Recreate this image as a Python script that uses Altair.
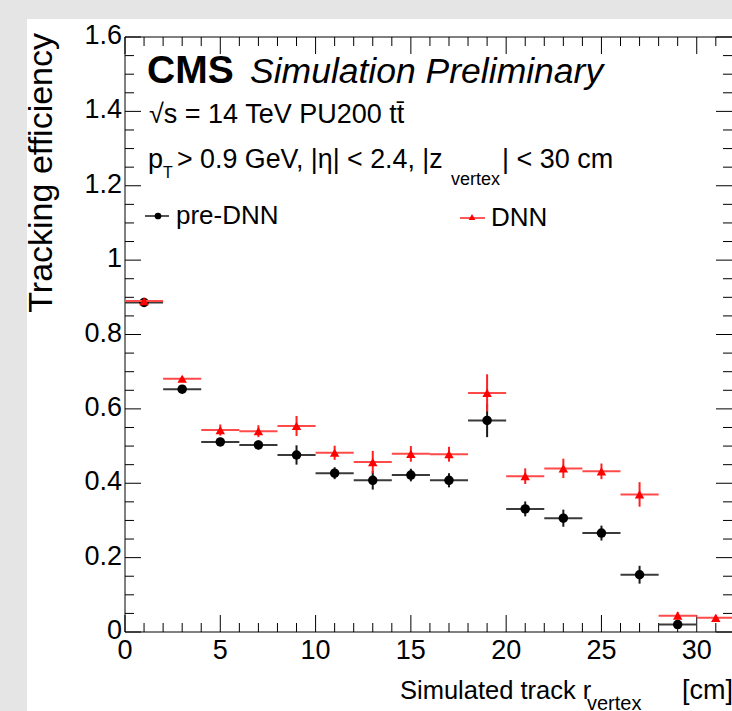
import altair as alt
import pandas as pd

# ---------------- data ----------------
bin_lo = [0, 2, 4, 6, 8, 10, 12, 14, 16, 18, 20, 22, 24, 26, 28, 30]
bin_hi = [2, 4, 6, 8, 10, 12, 14, 16, 18, 20, 22, 24, 26, 28, 30, 32]
bin_center = [1, 3, 5, 7, 9, 11, 13, 15, 17, 19, 21, 23, 25, 27, 29, 31]

pre_eff = [0.886, 0.653, 0.511, 0.503, 0.476, 0.427, 0.408, 0.422, 0.408,
           0.569, 0.331, 0.306, 0.266, 0.154, 0.020]
pre_err = [0.004, 0.006, 0.011, 0.012, 0.026, 0.016, 0.025, 0.017, 0.019,
           0.045, 0.020, 0.023, 0.020, 0.024, 0.006]
dnn_eff = [0.890, 0.681, 0.543, 0.540, 0.554, 0.482, 0.457, 0.479, 0.478,
           0.643, 0.419, 0.440, 0.432, 0.370, 0.044, 0.038]
dnn_err = [0.004, 0.006, 0.015, 0.016, 0.027, 0.019, 0.030, 0.021, 0.020,
           0.050, 0.021, 0.026, 0.021, 0.033, 0.010, 0.008]

x_major = [0, 5, 10, 15, 20, 25, 30]
x_labels = ["0", "5", "10", "15", "20", "25", "30"]
x_minor = [v for v in range(0, 32) if v % 5 != 0]
y_major = [0, 0.2, 0.4, 0.6, 0.8, 1.0, 1.2, 1.4, 1.6]
y_labels = ["0", "0.2", "0.4", "0.6", "0.8", "1", "1.2", "1.4", "1.6"]
y_minor = [round(0.05 * i, 2) for i in range(0, 33) if i % 4 != 0]

# ---------------- layout ----------------
W, H = 607, 595
FONT = "Liberation Sans"
XDOM = [0, 31.85]
YDOM = [0, 1.6]

pre = pd.DataFrame({
    "lo": bin_lo[:len(pre_eff)], "hi": bin_hi[:len(pre_eff)],
    "c": bin_center[:len(pre_eff)], "eff": pre_eff,
    "elo": [e - d for e, d in zip(pre_eff, pre_err)],
    "ehi": [e + d for e, d in zip(pre_eff, pre_err)],
})
dnn = pd.DataFrame({
    "lo": bin_lo[:len(dnn_eff)], "hi": bin_hi[:len(dnn_eff)],
    "c": bin_center[:len(dnn_eff)], "eff": dnn_eff,
    "elo": [e - d for e, d in zip(dnn_eff, dnn_err)],
    "ehi": [e + d for e, d in zip(dnn_eff, dnn_err)],
})

xs = alt.Scale(domain=XDOM, nice=False, zero=False)
ys = alt.Scale(domain=YDOM, nice=False, zero=False)
one = pd.DataFrame({"k": [0]})


def X(field):
    return alt.X(field, type="quantitative", scale=xs, axis=None)


def Y(field):
    return alt.Y(field, type="quantitative", scale=ys, axis=None)


layers = []

# white panel
layers.append(alt.Chart(one).mark_rect(color="white").encode(
    x=alt.value(-98), x2=alt.value(W + 5), y=alt.value(-18), y2=alt.value(H + 90)))

tx_major = pd.DataFrame({"v": x_major, "lab": x_labels})
tx_minor = pd.DataFrame({"v": x_minor})
ty_major = pd.DataFrame({"v": y_major, "lab": y_labels})
ty_minor = pd.DataFrame({"v": y_minor})

tick_style = dict(color="black", strokeWidth=1)
# frame (left, bottom, top)
layers.append(alt.Chart(one).mark_rule(**tick_style).encode(
    x=alt.value(0), x2=alt.value(W + 5), y=alt.value(0)))
layers.append(alt.Chart(one).mark_rule(**tick_style).encode(
    x=alt.value(0), x2=alt.value(W + 5), y=alt.value(H)))
layers.append(alt.Chart(one).mark_rule(**tick_style).encode(
    x=alt.value(0), y=alt.value(0), y2=alt.value(H)))
# bottom ticks
layers.append(alt.Chart(tx_major).mark_rule(**tick_style).encode(
    x=X("v"), y=alt.value(H), y2=alt.value(H - 17)))
layers.append(alt.Chart(tx_minor).mark_rule(**tick_style).encode(
    x=X("v"), y=alt.value(H), y2=alt.value(H - 9)))
# top ticks
layers.append(alt.Chart(tx_major).mark_rule(**tick_style).encode(
    x=X("v"), y=alt.value(0), y2=alt.value(17)))
layers.append(alt.Chart(tx_minor).mark_rule(**tick_style).encode(
    x=X("v"), y=alt.value(0), y2=alt.value(9)))
# left ticks
layers.append(alt.Chart(ty_major).mark_rule(**tick_style).encode(
    y=Y("v"), x=alt.value(0), x2=alt.value(16)))
layers.append(alt.Chart(ty_minor).mark_rule(**tick_style).encode(
    y=Y("v"), x=alt.value(0), x2=alt.value(9)))
# right ticks
layers.append(alt.Chart(ty_major).mark_rule(**tick_style).encode(
    y=Y("v"), x=alt.value(W), x2=alt.value(W - 16)))
layers.append(alt.Chart(ty_minor).mark_rule(**tick_style).encode(
    y=Y("v"), x=alt.value(W), x2=alt.value(W - 9)))

# tick labels
layers.append(alt.Chart(tx_major).mark_text(
    font=FONT, fontSize=27, color="black", align="center", baseline="top").encode(
    x=X("v"), y=alt.value(H + 6), text="lab:N"))
layers.append(alt.Chart(ty_major).mark_text(
    font=FONT, fontSize=27, color="black", align="right", baseline="middle",
    dy=-1).encode(
    y=Y("v"), x=alt.value(-3), text="lab:N"))

# ---------------- data series ----------------
BLK = "#1a1a1a"
RED = "#ff2020"
layers.append(alt.Chart(pre).mark_rule(color="#3a3a3a", strokeWidth=2).encode(
    x=X("lo"), x2="hi", y=Y("eff")))
layers.append(alt.Chart(pre).mark_rule(color=BLK, strokeWidth=2).encode(
    x=X("c"), y=Y("elo"), y2="ehi"))
layers.append(alt.Chart(pre).mark_point(shape="circle", filled=True, size=90,
                                         color="black", opacity=1).encode(
    x=X("c"), y=Y("eff")))

layers.append(alt.Chart(dnn).mark_rule(color="#ff4a4a", strokeWidth=2).encode(
    x=X("lo"), x2="hi", y=Y("eff")))
layers.append(alt.Chart(dnn).mark_rule(color=RED, strokeWidth=2).encode(
    x=X("c"), y=Y("elo"), y2="ehi"))
layers.append(alt.Chart(dnn).mark_point(shape="triangle-up", filled=True, size=90,
                                         color="#ff0000", opacity=1).encode(
    x=X("c"), y=Y("eff")))


# ---------------- text ----------------
def txt(s, x, y, size, **kw):
    opts = dict(text=s, font=FONT, fontSize=size, color="black",
                align="left", baseline="alphabetic")
    opts.update(kw)
    return alt.Chart(one).mark_text(**opts).encode(x=alt.value(x), y=alt.value(y))


# origin of plot = (125, 37) in page pixels
layers.append(txt("CMS", 22, 46, 39, fontWeight="bold"))
layers.append(txt("Simulation Preliminary", 125, 46, 35.5, fontStyle="italic"))
layers.append(txt("\u221as = 14 TeV PU200 tt\u0304", 24, 86, 27))
layers.append(txt("p", 23, 131, 27))
layers.append(txt("T", 38, 141, 16))
layers.append(txt("> 0.9 GeV, |\u03b7| < 2.4, |z", 52, 131, 26.8))
layers.append(txt("vertex", 326, 148, 18))
layers.append(txt("| < 30 cm", 377, 131, 27))

# legend
layers.append(alt.Chart(one).mark_rule(color=BLK, strokeWidth=1.5).encode(
    x=alt.value(20), x2=alt.value(44), y=alt.value(179)))
layers.append(alt.Chart(one).mark_point(shape="circle", filled=True, size=45,
                                        color="black", opacity=1).encode(
    x=alt.value(33), y=alt.value(179)))
layers.append(txt("pre-DNN", 51, 187, 26))
layers.append(alt.Chart(one).mark_rule(color=RED, strokeWidth=1.5).encode(
    x=alt.value(335), x2=alt.value(360), y=alt.value(181)))
layers.append(alt.Chart(one).mark_point(shape="triangle-up", filled=True, size=45,
                                        color="#ff0000", opacity=1).encode(
    x=alt.value(347), y=alt.value(180)))
layers.append(txt("DNN", 366, 189, 26))

# axis titles
layers.append(txt("Tracking efficiency", -73, -4, 34, angle=270, align="right"))
layers.append(txt("Simulated track r", 275, 662, 25.5))
layers.append(txt("vertex", 462, 673, 20))
layers.append(txt("[cm]", 608, 662, 27, align="right"))

chart = alt.layer(*layers).properties(
    width=W, height=H,
    padding={"left": 125, "top": 37, "right": 0, "bottom": 79},
    autosize=alt.AutoSizeParams(type="none"),
    background="#e5e5e5",
).configure_view(stroke="transparent")

chart.save("out.html", embed_options={"renderer": "svg", "actions": False})
